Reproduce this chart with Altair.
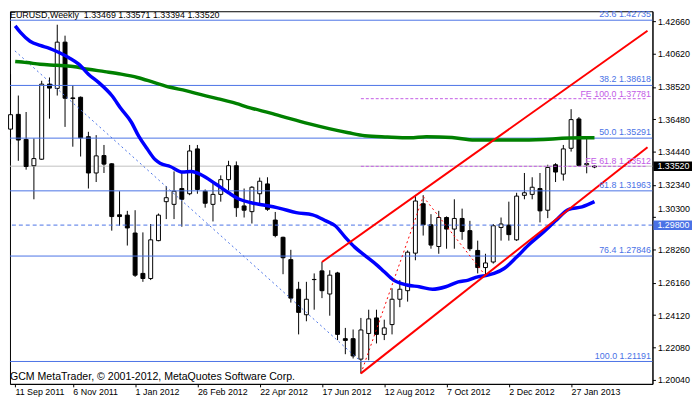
import altair as alt
import pandas as pd

# ---------------- data ----------------
week = list(range(76))
open_ = [1.3586, 1.3679, 1.3521, 1.3355, 1.3396, 1.3870, 1.3843, 1.4135, 1.3783, 1.3787,
         1.3538, 1.3309, 1.3419, 1.3367, 1.3045, 1.3043, 1.2930, 1.2675, 1.2643, 1.2882,
         1.3128, 1.3111, 1.3211, 1.3178, 1.3461, 1.3194, 1.3111, 1.3174, 1.3267, 1.3355,
         1.3101, 1.3065, 1.3178, 1.3240, 1.3012, 1.2903, 1.2762, 1.2575, 1.2414, 1.2637,
         1.2691, 1.2545, 1.2678, 1.2263, 1.2263, 1.2134, 1.2296, 1.2394, 1.2290, 1.2352,
         1.2512, 1.2566, 1.2803, 1.3115, 1.2982, 1.2845, 1.3028, 1.2955, 1.3022, 1.2945,
         1.2820, 1.2712, 1.2747, 1.2965, 1.2980, 1.2887, 1.3168, 1.3174, 1.3211, 1.3074,
         1.3361, 1.3302, 1.3465, 1.3650, 1.3361, 1.33469]
high = [1.3933, 1.3798, 1.3694, 1.3527, 1.3891, 1.3912, 1.4245, 1.4176, 1.3864, 1.3792,
        1.3569, 1.3548, 1.3486, 1.3371, 1.3194, 1.3070, 1.3074, 1.2934, 1.2987, 1.3053,
        1.3226, 1.3319, 1.3319, 1.3486, 1.3486, 1.3205, 1.3257, 1.3294, 1.3386, 1.3382,
        1.3211, 1.3226, 1.3280, 1.3282, 1.3063, 1.2907, 1.2824, 1.2622, 1.2622, 1.2675,
        1.2747, 1.2695, 1.2685, 1.2331, 1.2321, 1.2394, 1.2446, 1.2446, 1.2383, 1.2581,
        1.2633, 1.2820, 1.3163, 1.3169, 1.3049, 1.3070, 1.3035, 1.3143, 1.3084, 1.3007,
        1.2882, 1.2799, 1.2987, 1.3028, 1.3128, 1.3184, 1.3309, 1.3282, 1.3309, 1.3361,
        1.3371, 1.3486, 1.3712, 1.3662, 1.3525, 1.33571]
low = [1.3490, 1.3386, 1.3330, 1.3143, 1.3392, 1.3652, 1.3798, 1.3600, 1.3475, 1.3413,
       1.3211, 1.3252, 1.3309, 1.2945, 1.2976, 1.2851, 1.2653, 1.2622, 1.2633, 1.2878,
       1.3018, 1.3018, 1.2970, 1.3169, 1.3178, 1.3090, 1.3003, 1.3128, 1.3199, 1.3032,
       1.3028, 1.2990, 1.3115, 1.3070, 1.2903, 1.2670, 1.2491, 1.2290, 1.2373, 1.2446,
       1.2519, 1.2408, 1.2254, 1.2165, 1.2138, 1.2044, 1.2127, 1.2233, 1.2254, 1.2290,
       1.2462, 1.2497, 1.2758, 1.2914, 1.2831, 1.2799, 1.2831, 1.2831, 1.2887, 1.2816,
       1.2675, 1.2653, 1.2737, 1.2882, 1.2882, 1.2880, 1.3143, 1.3143, 1.2997, 1.3024,
       1.3252, 1.3261, 1.3444, 1.3350, 1.3307, 1.33394]
close = [1.3677, 1.3517, 1.3350, 1.3400, 1.3870, 1.3845, 1.4135, 1.3781, 1.3779, 1.3531,
         1.3309, 1.3417, 1.3365, 1.3034, 1.3034, 1.2962, 1.2664, 1.2643, 1.2887, 1.3043,
         1.3153, 1.3194, 1.3143, 1.3448, 1.3205, 1.3118, 1.3174, 1.3267, 1.3355, 1.3090,
         1.3074, 1.3219, 1.3257, 1.3080, 1.2914, 1.2774, 1.2519, 1.2429, 1.2512, 1.2636,
         1.2566, 1.2664, 1.2290, 1.2252, 1.2154, 1.2318, 1.2388, 1.2290, 1.2331, 1.2512,
         1.2575, 1.2809, 1.3132, 1.2982, 1.2854, 1.3028, 1.2955, 1.3022, 1.2940, 1.2831,
         1.2712, 1.2741, 1.2976, 1.2987, 1.2920, 1.3163, 1.3184, 1.3219, 1.3070, 1.3344,
         1.3315, 1.3461, 1.3646, 1.3357, 1.3369, 1.33520]

date_labels = ["11 Sep 2011", "6 Nov 2011", "1 Jan 2012", "26 Feb 2012", "22 Apr 2012",
               "17 Jun 2012", "12 Aug 2012", "7 Oct 2012", "2 Dec 2012", "27 Jan 2013"]
price_ticks = [1.20040, 1.22080, 1.24120, 1.26160, 1.28260, 1.30300,
               1.32340, 1.34440, 1.36480, 1.38520, 1.40620, 1.42660]

ma_fast_w = [0.6, 1.3, 2.5, 3.8, 5.0, 6.3, 7.5, 8.8, 10.0, 11.3, 13.0, 14.2, 15.5, 16.5, 17.5,
             18.6, 19.2, 20.5, 22.1, 23.2, 24.6, 26.3, 28.0, 29.4, 30.9, 32.5, 34.6, 36.7, 38.8,
             40.5, 41.7, 43.0, 44.2, 45.5, 47.1, 48.0, 49.2, 50.9, 52.5, 54.2, 55.9, 57.5, 58.8,
             60.0, 61.3, 62.1, 63.4, 65.0, 66.7, 68.4, 70.0, 71.7, 73.4, 75.0]
ma_fast_p = [1.4238, 1.4195, 1.4141, 1.4114, 1.4096, 1.4068, 1.4037, 1.3995, 1.3933, 1.3881,
             1.3798, 1.3714, 1.3631, 1.3538, 1.3465, 1.3392, 1.3371, 1.3350, 1.3315, 1.3319,
             1.3295, 1.3241, 1.3184, 1.3143, 1.3121, 1.3107, 1.3086, 1.3059, 1.3045, 1.3007,
             1.2976, 1.2903, 1.2841, 1.2789, 1.2726, 1.2685, 1.2633, 1.2602, 1.2591, 1.2575,
             1.2591, 1.2622, 1.2633, 1.2653, 1.2664, 1.2675, 1.2706, 1.2778, 1.2862, 1.2934,
             1.3007, 1.3080, 1.3095, 1.3128]
ma_slow_w = [0.6, 2.1, 3.8, 5.9, 8.0, 10.0, 12.1, 14.2, 16.3, 18.4, 20.5, 22.5, 24.6, 26.7, 28.4,
             30.9, 33.4, 35.9, 38.4, 40.9, 43.4, 45.5, 48.4, 51.3, 53.4, 56.7, 59.6, 65.9, 73.4, 75.0]
ma_slow_p = [1.4013, 1.4006, 1.3995, 1.3989, 1.3981, 1.3964, 1.3949, 1.3933, 1.3912, 1.3881,
             1.3850, 1.3829, 1.3802, 1.3777, 1.3756, 1.3719, 1.3687, 1.3652, 1.3619, 1.3589,
             1.3563, 1.3544, 1.3536, 1.3531, 1.3538, 1.3533, 1.3517, 1.3517, 1.3531, 1.3531]

fib_levels = ["23.6", "38.2", "50.0", "61.8", "76.4", "100.0"]
fib_prices = [1.42735, 1.38618, 1.35291, 1.31963, 1.27846, 1.21191]
fe_levels = ["FE 100.0", "FE 61.8"]
fe_prices = [1.37781, 1.33512]
fe_start = [45, 45]

trend_id = ["upper", "upper", "lower", "lower"]
trend_w = [40, 81.8125, 45, 81.8125]
trend_p = [1.2747, 1.4207, 1.2044, 1.3471]

zigzag_w = [45, 53, 61]
zigzag_p = [1.2042, 1.3160, 1.2661]

fibline_w = [0.5625, 45]
fibline_p = [1.4080, 1.21191]

bid_price = 1.33520
alert_price = 1.29800
title_text = "EURUSD,Weekly\u00a0 1.33469 1.33571 1.33394 1.33520"
copyright_text = "GCM MetaTrader, \u00a9 2001-2012, MetaQuotes Software Corp."

# ---------------- tables ----------------
candles = pd.DataFrame({"w": week, "o": open_, "h": high, "l": low, "c": close})
candles["fillc"] = ["white" if c >= o else "black" for o, c in zip(open_, close)]
fast = pd.DataFrame({"w": ma_fast_w, "p": ma_fast_p})
slow = pd.DataFrame({"w": ma_slow_w, "p": ma_slow_p})
fib = pd.DataFrame({"lvl": fib_levels, "p": fib_prices})
fib["label"] = [f"{l} {p:.5f}" for l, p in zip(fib_levels, fib_prices)]
fe = pd.DataFrame({"lvl": fe_levels, "p": fe_prices, "ws": fe_start})
fe["we"] = 81.8125
fe["label"] = [f"{l} {p:.5f}" for l, p in zip(fe_levels, fe_prices)]
trend = pd.DataFrame({"id": trend_id, "w": trend_w, "p": trend_p})
zig = pd.DataFrame({"w": zigzag_w, "p": zigzag_p})
fibline = pd.DataFrame({"w": fibline_w, "p": fibline_p})
FIB = "#4A72E6"
boxes = pd.DataFrame({"p": [bid_price, alert_price], "bg": ["black", FIB]})
boxes["lo"] = boxes["p"] - 0.0031
boxes["hi"] = boxes["p"] + 0.0029
boxes["label"] = [f"{p:.5f}" for p in boxes["p"]]
one = pd.DataFrame({"t": [title_text], "c": [copyright_text]})

# ---------------- chart ----------------
W, H = 650, 377
FONT = "Liberation Sans"
VIOLET = "#C25CE6"
xs = alt.Scale(domain=[0.5625, 81.8125], nice=False, zero=False)
ys = alt.Scale(domain=[1.19776, 1.43301], nice=False, zero=False)

arr = "[" + ",".join(f"'{d}'" for d in date_labels) + "]"
x_axis = alt.Axis(values=[0.5625] + [8 * i for i in range(1, 10)],
                  labelExpr=arr + "[floor((datum.value + 1) / 8)]",
                  labelAlign="left", tickSize=3, labelPadding=1, labelFont=FONT,
                  labelFontSize=9, labelColor="black", tickColor="black",
                  domainColor="black", grid=False, labelOverlap=False, labelBound=False,
                  labelFlush=False)
y_axis = alt.Axis(values=price_ticks, format=".5f", orient="right", tickSize=3,
                  labelPadding=2, labelFont=FONT, labelFontSize=9, labelColor="black",
                  tickColor="black", domainColor="black", grid=False,
                  labelOverlap=False, labelBound=False, labelFlush=False,
                  labelOffset={"condition": {"test": "abs(datum.value - 1.303) < 0.0001",
                                             "value": -9}, "value": 0})

# every layer carries the same axis definition so that the shared axes merge cleanly
X = lambda f: alt.X(f, scale=xs, axis=x_axis, title=None)
Y = lambda f: alt.Y(f, scale=ys, axis=y_axis, title=None)

wicks = alt.Chart(candles).mark_rule(color="black", strokeWidth=1).encode(
    x=X("w:Q"), y=Y("l:Q"), y2="h:Q")
bid = alt.Chart(boxes.iloc[[0]]).mark_rule(color="#C0C0C0", strokeWidth=1).encode(y=Y("p:Q"))
bodies = alt.Chart(candles).mark_bar(size=4, stroke="black", strokeWidth=1).encode(
    x=X("w:Q"), y=Y("o:Q"), y2="c:Q", fill=alt.Fill("fillc:N", scale=None))

fib_rules = alt.Chart(fib).mark_rule(color=FIB, strokeWidth=1).encode(y=Y("p:Q"))
alert_rule = alt.Chart(boxes.iloc[[1]]).mark_rule(color=FIB, strokeWidth=1, strokeDash=[4, 3]).encode(y=Y("p:Q"))
fe_rules = alt.Chart(fe).mark_rule(color=VIOLET, strokeWidth=1, strokeDash=[3, 2]).encode(
    x=X("ws:Q"), x2="we:Q", y=Y("p:Q"))
fib_trend = alt.Chart(fibline).mark_line(color=FIB, strokeWidth=1, strokeDash=[2, 3], clip=True).encode(
    x=X("w:Q"), y=Y("p:Q"))
slow_line = alt.Chart(slow).mark_line(color="#008000", strokeWidth=3.5, interpolate="monotone", clip=True).encode(
    x=X("w:Q"), y=Y("p:Q"))
fast_line = alt.Chart(fast).mark_line(color="#0000FF", strokeWidth=3.5, interpolate="monotone", clip=True).encode(
    x=X("w:Q"), y=Y("p:Q"))
zig_line = alt.Chart(zig).mark_line(color="red", strokeWidth=1, strokeDash=[2, 3]).encode(
    x=X("w:Q"), y=Y("p:Q"))
trend_lines = alt.Chart(trend).mark_line(color="red", strokeWidth=2, clip=True).encode(
    x=X("w:Q"), y=Y("p:Q"), detail="id:N")

fib_text = alt.Chart(fib).mark_text(align="right", baseline="alphabetic", dy=-3, font=FONT,
                                    fontSize=9, color=FIB).encode(
    x=alt.value(648.5), y=Y("p:Q"), text="label:N")
fe_text = alt.Chart(fe).mark_text(align="right", baseline="alphabetic", dy=-2, font=FONT,
                                  fontSize=9, color=VIOLET).encode(
    x=alt.value(648.5), y=Y("p:Q"), text="label:N")
title = alt.Chart(one).mark_text(align="left", baseline="alphabetic", font=FONT, fontSize=9,
                                 color="black").encode(x=alt.value(0), y=alt.value(7), text="t:N")
copyright = alt.Chart(one).mark_text(align="left", baseline="alphabetic", font=FONT, fontSize=10.7,
                                     color="black").encode(x=alt.value(0), y=alt.value(373.5), text="c:N")
box_rects = alt.Chart(boxes).mark_rect().encode(
    x=alt.value(651), x2=alt.value(690), y=Y("lo:Q"), y2="hi:Q", fill=alt.Fill("bg:N", scale=None))
box_text = alt.Chart(boxes).mark_text(align="left", baseline="middle", font=FONT, fontSize=9,
                                      color="white").encode(x=alt.value(655), y=Y("p:Q"), text="label:N")

chart = alt.layer(
    wicks, bid, bodies, fib_rules, alert_rule, fe_rules, fib_trend, slow_line, fast_line,
    zig_line, trend_lines, fib_text, fe_text, title, copyright, box_rects, box_text
).properties(width=W, height=H, padding=0, background="white").configure_view(
    stroke="black", strokeWidth=1)

chart.save("out.html", embed_options={"renderer": "svg", "actions": False})
